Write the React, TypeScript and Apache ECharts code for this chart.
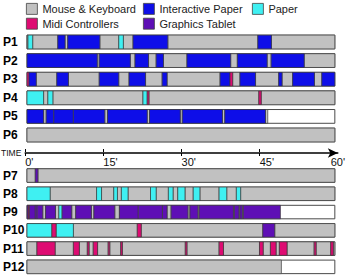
import React, { useEffect, useRef } from "react";
import * as echarts from "echarts";

// Activity codes: K = mouse & keyboard, I = interactive paper, P = paper,
// M = midi controllers, T = graphics tablet.
// Each participant row is a list of [activity, end minute]; a segment starts
// where the previous one ended (the first starts at 0).
type Seg = [string, number];

const CODES = ["K", "I", "P", "M", "T"];
const CATEGORY_NAMES = ["Mouse & Keyboard", "Interactive Paper", "Paper", "Midi Controllers", "Graphics Tablet"];

const TOP_ROWS = ["P1", "P2", "P3", "P4", "P5", "P6"];
const BOTTOM_ROWS = ["P7", "P8", "P9", "P10", "P11", "P12"];

const SESSION_END = 59.2;
const TIME_TICKS = [0, 15, 30, 45];

const P1: Seg[] = [["K", 0.19], ["P", 1.09], ["K", 5.92], ["I", 7.32], ["K", 7.83], ["I", 14.01], ["K", 17.64], ["P", 18.53], ["K", 20.39], ["I", 27.08], ["K", 44.39], ["I", 47.01], ["K", 59.2]];
const P2: Seg[] = [["I", 13.51], ["K", 13.89], ["I", 19.87], ["K", 20.77], ["I", 23.37], ["K", 24.84], ["I", 26.24], ["K", 30.76], ["I", 39.17], ["K", 40.45], ["I", 46.18], ["K", 46.95], ["I", 53.31], ["K", 59.2]];
const P3: Seg[] = [["M", 0.35], ["I", 1.78], ["K", 5.73], ["I", 7.97], ["K", 13.89], ["I", 17.64], ["K", 19.62], ["I", 22.8], ["K", 25.99], ["I", 26.94], ["K", 37.13], ["I", 39.04], ["M", 39.55], ["K", 40.95], ["I", 43.95], ["K", 48.4], ["I", 49.05], ["K", 51.08], ["I", 55.28], ["K", 56.69], ["I", 59.2]];
const P4: Seg[] = [["P", 3.19], ["K", 4.01], ["P", 4.97], ["K", 22.3], ["P", 23.12], ["M", 23.45], ["K", 44.58], ["M", 45.04], ["K", 59.2]];
const P5: Seg[] = [["I", 3.19], ["K", 3.69], ["I", 5.16], ["I", 8.92], ["I", 14.96], ["K", 15.48], ["I", 23.12], ["K", 23.56], ["I", 29.48], ["K", 29.87], ["I", 37.59], ["K", 38.03], ["I", 45.86], ["K", 46.3]];
const P6: Seg[] = [["K", 59.2]];
const P7: Seg[] = [["K", 1.59], ["T", 2.1], ["K", 59.2]];
const P8: Seg[] = [["P", 4.45], ["K", 13.38], ["P", 14.33], ["K", 16.68], ["P", 17.39], ["K", 18.15], ["P", 19.43], ["K", 23.75], ["P", 24.84], ["K", 27.19], ["P", 28.09], ["K", 28.99], ["P", 30.38], ["K", 31.97], ["P", 33.25], ["K", 36.94], ["P", 38.41], ["K", 40.26], ["P", 41.08], ["K", 59.2]];
const P9: Seg[] = [["T", 0.2], ["M", 0.45], ["T", 1.6], ["T", 1.95], ["T", 3.03], ["K", 3.57], ["T", 5.48], ["K", 6.12], ["P", 6.75], ["T", 8.6], ["K", 9.36], ["T", 12.38], ["K", 12.86], ["T", 16.88], ["K", 17.77], ["T", 21.4], ["T", 26.05], ["T", 26.94], ["K", 27.71], ["T", 30.95], ["K", 31.33], ["T", 32.87], ["K", 33.1], ["T", 39.69], ["K", 39.88], ["T", 40.76], ["K", 40.95], ["T", 41.4], ["K", 41.6], ["T", 48.73]];
const P10: Seg[] = [["P", 4.78], ["M", 5.6], ["P", 8.92], ["K", 21.21], ["M", 21.97], ["K", 45.34], ["T", 47.64], ["K", 59.2]];
const P11: Seg[] = [["K", 1.91], ["M", 5.41], ["K", 8.92], ["M", 10.07], ["K", 11.6], ["M", 11.94], ["K", 12.74], ["M", 13.57], ["K", 15.61], ["M", 15.92], ["K", 18.02], ["M", 18.34], ["K", 30.44], ["M", 30.76], ["K", 36.94], ["M", 37.78], ["K", 44.71], ["M", 45.42], ["K", 46.81], ["M", 47.9], ["K", 48.53], ["M", 50.01], ["K", 55.22], ["M", 55.6], ["K", 58.41], ["M", 58.91], ["K", 59.2]];
const P12: Seg[] = [["K", 48.92]];

const TOP_DATA = [P1, P2, P3, P4, P5, P6];
const BOTTOM_DATA = [P7, P8, P9, P10, P11, P12];

const COLORS: Record<string, string> = {
  K: "#c1c1c1",
  I: "#0e0ee8",
  P: "#3ff0f2",
  M: "#de0b72",
  T: "#5e0fb5",
};

const FONT = "'Liberation Sans', Arial, Helvetica, sans-serif";
const LEFT = 25;
const WIDTH = 314;

// Flatten rows into [rowIndex, start, end] triples for one activity code.
function segmentsFor(rows: Seg[][], code: string): number[][] {
  const out: number[][] = [];
  rows.forEach((row, r) => {
    let start = 0;
    row.forEach(([c, end]) => {
      if (c === code) out.push([r, start, end]);
      start = end;
    });
  });
  return out;
}

const BAR_RATIO = 0.74;

function renderSegment(params: any, api: any) {
  const row = api.value(0);
  const p0 = api.coord([api.value(1), row]);
  const p1 = api.coord([api.value(2), row]);
  const h = api.size([0, 1])[1] * BAR_RATIO;
  return {
    type: "rect",
    shape: { x: p0[0], y: p0[1] - h / 2, width: p1[0] - p0[0], height: h },
    style: { fill: api.visual("color"), stroke: "#3a3a3a", lineWidth: 0.7 },
  };
}

function renderTrack(params: any, api: any) {
  const row = api.value(0);
  const p0 = api.coord([api.value(1), row]);
  const p1 = api.coord([api.value(2), row]);
  const h = api.size([0, 1])[1] * BAR_RATIO;
  return {
    type: "rect",
    shape: { x: p0[0], y: p0[1] - h / 2, width: p1[0] - p0[0], height: h },
    style: { fill: "#ffffff", stroke: "#4a4a4a", lineWidth: 1 },
  };
}

function seriesForGrid(rows: Seg[][], gridIndex: number) {
  const list: any[] = [
    {
      type: "custom",
      name: "session",
      xAxisIndex: gridIndex,
      yAxisIndex: gridIndex,
      renderItem: renderTrack,
      encode: { x: [1, 2], y: 0 },
      data: rows.map((_, r) => [r, 0, SESSION_END]),
      z: 1,
      silent: true,
    },
  ];
  CODES.forEach((code, i) => {
    list.push({
      type: "custom",
      name: CATEGORY_NAMES[i],
      xAxisIndex: gridIndex,
      yAxisIndex: gridIndex,
      renderItem: renderSegment,
      itemStyle: { color: COLORS[code] },
      encode: { x: [1, 2], y: 0 },
      data: segmentsFor(rows, code),
      z: 2,
    });
  });
  return list;
}

function rowAxis(gridIndex: number, rows: string[]) {
  return {
    type: "category",
    gridIndex,
    data: rows,
    inverse: true,
    axisLine: { show: false },
    axisTick: { show: false },
    splitLine: { show: false },
    axisLabel: {
      fontSize: 12,
      fontWeight: "bold",
      color: "#000",
      align: "left",
      margin: 24,
      fontFamily: FONT,
    },
  };
}

function hiddenTimeAxis(gridIndex: number) {
  return { type: "value", gridIndex, min: 0, max: 60, show: false };
}

function legendBlock(left: number, names: string[]) {
  return {
    orient: "vertical",
    left,
    top: 3,
    padding: 0,
    itemWidth: 11,
    itemHeight: 11,
    itemGap: 3,
    icon: "rect",
    selectedMode: false,
    itemStyle: { borderColor: "#444", borderWidth: 0.8 },
    textStyle: { fontSize: 11, color: "#222", fontFamily: FONT },
    data: names.map((n) => ({
      name: n,
      itemStyle: { color: COLORS[CODES[CATEGORY_NAMES.indexOf(n)]] },
    })),
  };
}

export default function App() {
  const ref = useRef<HTMLDivElement>(null);

  useEffect(() => {
    if (!ref.current) return;
    const chart = echarts.init(ref.current, undefined, { renderer: "svg" });
    chart.setOption({
      animation: false,
      backgroundColor: "#ffffff",
      textStyle: { fontFamily: FONT },
      legend: [
        legendBlock(26, ["Mouse & Keyboard", "Midi Controllers"]),
        legendBlock(143, ["Interactive Paper", "Graphics Tablet"]),
        legendBlock(252, ["Paper"]),
      ],
      grid: [
        { left: LEFT, width: WIDTH, top: 32.7, height: 111.6 },
        { left: LEFT, width: WIDTH, top: 166.4, height: 115.2 },
        { left: LEFT, width: WIDTH, top: 152, height: 1 },
      ],
      xAxis: [
        hiddenTimeAxis(0),
        hiddenTimeAxis(1),
        {
          type: "value",
          gridIndex: 2,
          min: 0,
          max: 60,
          interval: 15,
          position: "bottom",
          name: "TIME",
          nameLocation: "start",
          nameGap: 2,
          nameTextStyle: { fontSize: 8.5, color: "#111", fontFamily: FONT },
          axisLine: {
            show: true,
            symbol: ["none", "arrow"],
            symbolSize: [7, 10],
            lineStyle: { color: "#000", width: 1.5 },
          },
          axisTick: {
            show: true,
            length: 3,
            customValues: TIME_TICKS,
            lineStyle: { color: "#000", width: 1 },
          },
          axisLabel: {
            fontSize: 11,
            color: "#111",
            align: "left",
            margin: 3,
            alignMaxLabel: "center",
            fontFamily: FONT,
            formatter: (v: number) => `${v}'`,
          },
          splitLine: { show: false },
        },
        {
          type: "value",
          gridIndex: 2,
          min: 0,
          max: 60,
          interval: 15,
          position: "top",
          axisLine: { show: false },
          axisTick: {
            show: true,
            length: 3,
            customValues: TIME_TICKS,
            lineStyle: { color: "#000", width: 1 },
          },
          axisLabel: { show: false },
          splitLine: { show: false },
        },
      ],
      yAxis: [
        rowAxis(0, TOP_ROWS),
        rowAxis(1, BOTTOM_ROWS),
        { type: "value", gridIndex: 2, show: false },
      ],
      series: [...seriesForGrid(TOP_DATA, 0), ...seriesForGrid(BOTTOM_DATA, 1)],
    });
    return () => chart.dispose();
  }, []);

  return (
    <div
      ref={ref}
      style={{ position: "fixed", left: 0, top: 0, width: 348, height: 276, background: "#fff" }}
    />
  );
}
